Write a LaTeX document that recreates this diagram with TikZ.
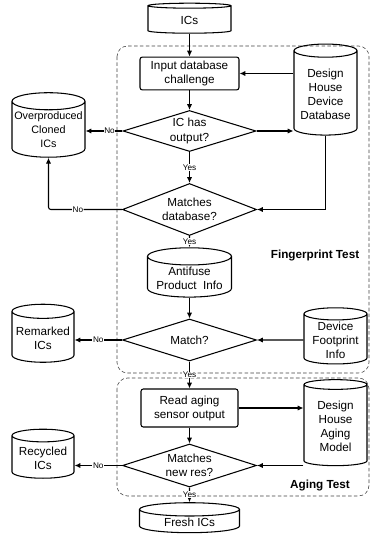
\documentclass[tikz,border=0pt]{standalone}
\usepackage{fontspec}
\setmainfont{Liberation Sans}
\usetikzlibrary{shapes.geometric,arrows.meta}
\begin{document}
\begin{tikzpicture}[
    x=0.03cm, y=-0.03cm,
    every node/.style={align=center, font=\fontsize{10}{12}\selectfont},
    % Stile per i cilindri (archivi di dati)
    store/.style={cylinder, shape border rotate=90, aspect=0.25, draw,
        line width=0.9pt, inner sep=1pt},
    % Stile per i passi di elaborazione
    proc/.style={rectangle, rounded corners=2pt, draw, line width=0.9pt},
    % Stile per le decisioni
    dec/.style={diamond, draw, line width=0.9pt, inner sep=0pt},
    % Stile per le etichette Yes/No
    lbl/.style={font=\fontsize{7}{8}\selectfont, fill=white, inner sep=0.5pt},
    % Stile per i riquadri dei test
    grp/.style={draw=black!75, dash pattern=on 3pt off 2pt,
        rounded corners=9pt, line width=0.5pt},
    % Stile per i titoli dei test
    ttl/.style={font=\bfseries\fontsize{10}{12}\selectfont},
    flow/.style={-{Latex[length=5pt,width=4.5pt]}, line width=0.9pt}
]
\useasboundingbox (0,0) rectangle (370,539);

% --- RIQUADRI DEI TEST ---
\draw[grp] (117,46) rectangle (369,373);
\draw[grp] (117,378) rectangle (369,496);
\node[ttl] (fpt) at (315,255) {Fingerprint Test};
\node[ttl] (agt) at (320,485) {Aging Test};

% --- NODI ---
\node[store, minimum width=2.49cm, minimum height=0.9cm] (ics) at (189.5,20) {ICs};
\node[proc, minimum width=2.97cm, minimum height=0.93cm] (inp) at (189.5,73.5)
    {Input database\\challenge};
\node[store, minimum width=1.89cm, minimum height=2.73cm] (dhd) at (325.5,94)
    {Design\\House\\Device\\Database};
\node[dec, aspect=3.2, minimum width=3.99cm, minimum height=1.23cm] (d1) at (189.5,131)
    {IC has\\output?};
\node[store, minimum width=2.19cm, minimum height=1.71cm, inner xsep=0pt,
    font=\fontsize{9.2}{12}\selectfont] (ovp) at (48.5,129.5)
    {Overproduced\\Cloned\\ICs};
\node[dec, aspect=2.6, minimum width=4.02cm, minimum height=1.56cm] (d2) at (189.5,209.5)
    {Matches\\database?};
\node[store, minimum width=2.52cm, minimum height=1.32cm] (anti) at (189.5,278)
    {Antifuse\\Product\ \ Info};
\node[dec, aspect=3.2, minimum width=4.02cm, minimum height=1.26cm] (d3) at (189.5,340)
    {Match?};
\node[store, minimum width=1.86cm, minimum height=1.74cm] (rmk) at (43,338)
    {Remarked\\ICs};
\node[store, minimum width=1.89cm, minimum height=1.62cm] (dfp) at (335.5,340)
    {Device\\Footprint\\Info};
\node[proc, minimum width=2.91cm, minimum height=1.14cm] (rd) at (189.5,408)
    {Read aging\\sensor output};
\node[store, minimum width=1.89cm, minimum height=2.58cm] (dham) at (335.5,426)
    {Design\\House\\Aging\\Model};
\node[dec, aspect=3.1, minimum width=4.02cm, minimum height=1.29cm] (d4) at (189.5,465.5)
    {Matches\\new res?};
\node[store, minimum width=1.86cm, minimum height=1.47cm] (rcy) at (43,458)
    {Recycled\\ICs};
\node[store, minimum width=3.0cm, minimum height=0.87cm] (fresh) at (189.5,522)
    {Fresh ICs};

% --- CONNESSIONI ---
\draw[flow] (ics) -- (inp);
\draw[flow] (dhd.west |- inp.east) -- (inp.east);
\draw[flow] (inp) -- (d1);
\draw[flow] (d1.east) -- (d1.east -| dhd.west);
\draw[flow] (d1.west) -- node[lbl, pos=0.35] {No} (d1.west -| ovp.east);
\draw[flow] (d1.south) -- node[lbl] {Yes} (d2.north);
\draw[flow] (dhd.south) |- (d2.east);
\draw[flow, rounded corners=2pt] (d2.west) -- node[lbl, pos=0.6] {No} (d2.west -| ovp.south)
    -- (ovp.south);
\draw[flow] (d2.south) -- node[lbl] {Yes} (anti.north);
\draw[flow] (anti) -- (d3);
\draw[flow] (dfp.west) -- (d3.east);
\draw[flow] (d3.west) -- node[lbl] {No} (d3.west -| rmk.east);
\draw[flow] (d3.south) -- node[lbl] {Yes} (rd.north);
\draw[flow] (rd.east) -- (rd.east -| dham.west);
\draw[flow] (rd) -- (d4);
\draw[flow] (dham.west |- d4.east) -- (d4.east);
\draw[flow] (d4.west) -- node[lbl] {No} (d4.west -| rcy.east);
\draw[flow] (d4.south) -- node[lbl] {Yes} (fresh.north);

\end{tikzpicture}
\end{document}
